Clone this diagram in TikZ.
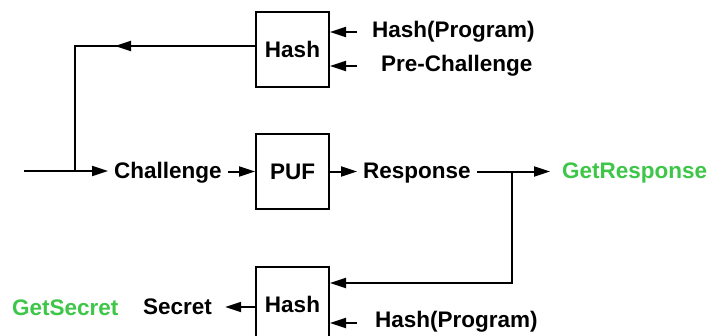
\documentclass[tikz,border=0pt]{standalone}
\usepackage{fontspec}
\setmainfont{Liberation Sans}
\usetikzlibrary{arrows.meta}
\definecolor{callgreen}{RGB}{62,198,72}
\tikzset{
  txt/.style={font=\bfseries\fontsize{22.5}{26}\selectfont},
  blk/.style={txt, draw, line width=2pt, minimum width=73pt, minimum height=75pt, inner sep=0pt},
  lbl/.style={txt, inner xsep=6pt, inner ysep=0pt, anchor=base west},
  wire/.style={line width=2pt},
  arr/.style={wire, -{Triangle[length=16pt,width=10pt]}},
}
\begin{document}
\begin{tikzpicture}[x=1pt,y=-1pt]
\useasboundingbox (0,0) rectangle (723,335);
\clip (0,0) rectangle (723,335);

% blocks
\node[blk] (hashA) at (292.5,49.5) {Hash};
\node[blk] (puf)   at (292.5,171.5) {PUF};
\node[blk] (hashB) at (292.5,304.5) {Hash};

% labels
\node[lbl] (progA) at (366,37) {Hash(Program)};
\node[lbl] (pre)   at (375,71) {Pre-Challenge};
\node[lbl] (chal)  at (108,178) {Challenge};
\node[lbl] (resp)  at (357,178) {Response};
\node[lbl, text=callgreen] (getresp) at (556,178) {GetResponse};
\node[lbl] (secret) at (137,314) {Secret};
\node[lbl, text=callgreen] (getsec) at (6,315) {GetSecret};
\node[lbl] (progB) at (369,327) {Hash(Program)};

% wire points
\coordinate (in)    at (24,171);
\coordinate (fork)  at (75,171);
\coordinate (bendA) at (75,46);
\coordinate (tipA)  at (115,46);
\coordinate (split) at (512,171);
\coordinate (bendB) at (512,283);
\coordinate (srcA1) at (357,32);
\coordinate (srcA2) at (357,66);
\coordinate (srcB2) at (357,323);

% upper hash inputs
\draw[arr] (srcA1) -- (srcA1 -| hashA.east);
\draw[arr] (srcA2) -- (srcA2 -| hashA.east);

% hashed challenge feeds back into the challenge line
\draw[wire] (bendA -| hashA.west) -- (bendA) -- (fork);
\draw[arr] (bendA -| hashA.west) -- (tipA);

% main path
\draw[arr] (in) -- (in -| chal.west);
\draw[arr] (chal.east |- puf.west) -- (puf.west);
\draw[arr] (puf.east) -- (puf.east -| resp.west);
\draw[arr, shorten >=6pt] (resp.east |- puf.east) -- (puf.east -| getresp.west);

% response to lower hash
\draw[arr] (split) -- (bendB) -- (bendB -| hashB.east);
\draw[arr] (srcB2) -- (srcB2 -| hashB.east);

% secret output
\draw[arr, shorten >=7pt] (hashB.west |- 0,307) -- (secret.east |- 0,307);
\end{tikzpicture}
\end{document}
